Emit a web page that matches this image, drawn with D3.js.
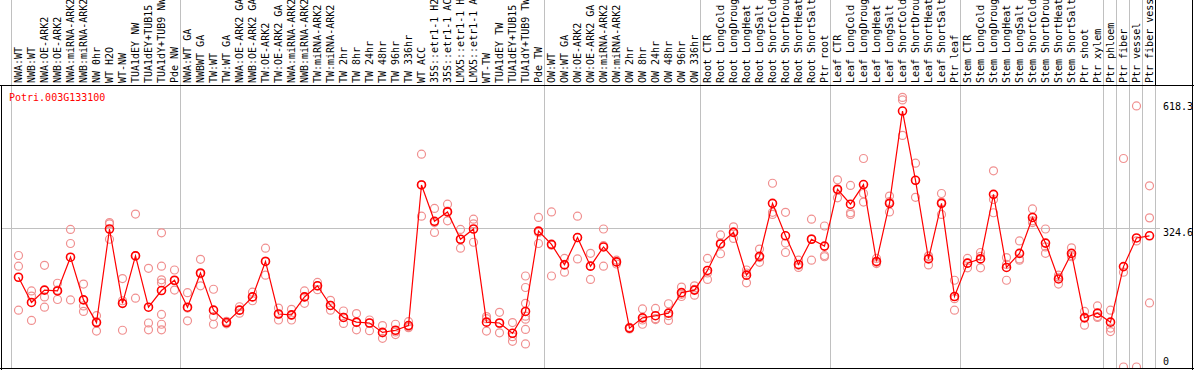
<!DOCTYPE html>
<html>
<head>
<meta charset="utf-8">
<script src="https://cdn.jsdelivr.net/npm/d3@7"></script>
<style>
html,body{margin:0;padding:0;background:#fff;}
svg{display:block;}
text{font-family:"DejaVu Sans Mono",monospace;font-size:10px;}
</style>
</head>
<body>
<svg id="chart" width="1194" height="370"></svg>
<script>
const geneId = "Potri.003G133100";

const categories = [
  "NWA:WT","NWB:WT","NWA:OE-ARK2","NWB:OE-ARK2","NWA:miRNA-ARK2","NWB:miRNA-ARK2","NW 0hr","WT H2O","WT-NW","TUA1dEY NW","TUA1dEY+TUB15 NW","TUA1dY+TUB9 NW","Pde NW",
  "NWA:WT GA","NWBWT GA","TW:WT","TW:WT GA","NWA:OE-ARK2 GA","NWB:OE-ARK2 GA","TW:OE-ARK2","TW:OE-ARK2 GA","NWA:miRNA-ARK2","NWB:miRNA-ARK2","TW:miRNA-ARK2","TW:miRNA-ARK2",
  "TW 2hr","TW 8hr","TW 24hr","TW 48hr","TW 96hr","TW 336hr","WT ACC","35S::etr1-1 H2O","35S::etr1-1 ACC","LMX5::etr1-1 H2O","LMX5::etr1-1 ACC","WT-TW","TUA1dEY TW","TUA1dEY+TUB15 TW","TUA1dY+TUB9 TW","Pde TW",
  "OW:WT","OW:WT GA","OW:OE-ARK2","OW:OE-ARK2 GA","OW:miRNA-ARK2","OW:miRNA-ARK2","OW 2hr","OW 8hr","OW 24hr","OW 48hr","OW 96hr","OW 336hr",
  "Root CTR","Root LongCold","Root LongDrought","Root LongHeat","Root LongSalt","Root ShortCold","Root ShortDrought","Root ShortHeat","Root ShortSalt","Ptr root",
  "Leaf CTR","Leaf LongCold","Leaf LongDrought","Leaf LongHeat","Leaf LongSalt","Leaf ShortCold","Leaf ShortDrought","Leaf ShortHeat","Leaf ShortSalt","Ptr leaf",
  "Stem CTR","Stem LongCold","Stem LongDrought","Stem LongHeat","Stem LongSalt","Stem ShortCold","Stem ShortDrought","Stem ShortHeat","Stem ShortSalt","Ptr shoot","Ptr xylem",
  "Ptr phloem","Ptr fiber","Ptr vessel","Ptr fiber vessel"
];

const meanValues = [
  210,151,180,178,257,157,104,323,149,260,140,179,203,
  140,220,133,104,133,164,247,124,122,164,190,144,
  116,105,103,81,86,97,426,341,363,299,323,105,103,79,130,318,
  287,239,303,236,281,246,91,115,120,126,174,180,
  226,288,315,215,259,383,307,240,299,283,
  416,381,427,247,383,599,437,253,383,165,
  243,253,404,233,266,350,290,206,266,115,126,
  105,235,302,307
];

const replicateValues = [
  [261,236,133],[178,166,109],[238,164,140],[196,180,158],[322,289,157],[194,143,130],[120,106,84],[338,335,299],[207,155,86],[358,261,161],[231,103,87],[314,236,204,197,123,100,87],[227,202,180],
  [174,138,108],[252,218,190],[182,118,100],[107,104,101],[141,133,126],[175,164,155],[278,248,215],[138,124,110],[135,121,110],[178,164,149],[198,190,181],[156,144,133],
  [131,116,102],[125,104,87],[110,103,85],[97,80,67],[100,82,76],[106,94,92],[498,427,353],[371,338,315],[381,365,342],[322,299,278],[346,335,292],[118,113,84],[128,102,80],[104,71,60],[213,186,149,119,112,88,54],[350,315,289],
  [363,285,213],[254,240,222],[353,303,253],[266,236,205],[323,284,236],[250,246,241],[93,91,89],[136,110,100],[137,113,111],[148,120,109],[187,170,165],[190,182,168],
  [254,220,205],[309,290,265],[328,316,301],[227,220,197],[276,256,245],[430,362,357],[362,290,268],[250,238,233],[346,300,250],[330,261,258],
  [438,414,396],[425,361,357],[488,406,386],[254,245,242],[400,387,363],[631,625,542],[477,437,397],[260,259,239],[406,386,357],[203,160,133],
  [254,243,232],[268,259,232],[459,392,361],[256,240,203],[295,250,253],[370,342,338],[323,281,266],[215,210,194],[279,261,258],[130,117,98],[143,118,116],
  [133,91,83],[488,222,0],[611,295,0],[424,349,150]
];

const groupBreaks = [0,13,41,53,63,73,84,85,86,87,88];
const tickValues = [0, 324.6, 618.3];
const tickLabels = ["0", "324.6", "618.3"];
const gridValues = [324.6];

const svg = d3.select("#chart");
const W = 1194, H = 370;
const headerBottom = 85, plotBottom = 368.5;

const x = d3.scaleBand().domain(d3.range(categories.length)).range([12, 1156]).padding(0);
const y = d3.scaleLinear().domain([0, 324.6]).range([367, 228.3]);
const cx = i => x(i) + x.bandwidth() / 2;

// vertical group separators (grey)
svg.append("g").selectAll("line").data(groupBreaks).join("line")
  .attr("x1", d => (d < categories.length ? x(d) : x(categories.length - 1) + x.bandwidth()) - 0.5)
  .attr("x2", d => (d < categories.length ? x(d) : x(categories.length - 1) + x.bandwidth()) - 0.5)
  .attr("y1", 0).attr("y2", plotBottom)
  .attr("stroke", "#c0c0c0").attr("stroke-width", 1);

// horizontal gridline
svg.append("g").selectAll("line").data(gridValues).join("line")
  .attr("x1", 1).attr("x2", 1160)
  .attr("y1", d => Math.round(y(d)) + 0.5).attr("y2", d => Math.round(y(d)) + 0.5)
  .attr("stroke", "#c0c0c0").attr("stroke-width", 1);

// column labels
svg.append("g").selectAll("text").data(categories).join("text")
  .attr("transform", (d, i) => `translate(${cx(i) + 3.5},83) rotate(-90)`)
  .attr("text-anchor", "start")
  .attr("fill", "#000")
  .text(d => d);

// frame lines
const frame = svg.append("g").attr("stroke", "#000").attr("stroke-width", 1);
frame.append("line").attr("x1", 0).attr("x2", W).attr("y1", headerBottom + 0.5).attr("y2", headerBottom + 0.5);
frame.append("line").attr("x1", 1.5).attr("x2", 1.5).attr("y1", headerBottom).attr("y2", H);
frame.append("line").attr("x1", 0).attr("x2", W).attr("y1", plotBottom).attr("y2", plotBottom);
frame.append("line").attr("x1", W - 1.5).attr("x2", W - 1.5).attr("y1", 0).attr("y2", H);
frame.append("line").attr("x1", 1155.5).attr("x2", 1155.5).attr("y1", 0).attr("y2", headerBottom);

// clip for data
svg.append("clipPath").attr("id", "plotclip").append("rect")
  .attr("x", 2).attr("y", headerBottom + 1).attr("width", 1190).attr("height", plotBottom - headerBottom - 1.5);

const plot = svg.append("g").attr("clip-path", "url(#plotclip)");

// replicate points
const repPts = [];
replicateValues.forEach((arr, i) => arr.forEach(v => repPts.push({i, v})));
plot.append("g").selectAll("circle").data(repPts).join("circle")
  .attr("cx", d => cx(d.i)).attr("cy", d => y(d.v)).attr("r", 4)
  .attr("fill", "none").attr("stroke", "#f09090").attr("stroke-width", 1.2);

// mean line
plot.append("path").datum(meanValues)
  .attr("d", d3.line().x((d, i) => cx(i)).y(d => y(d)))
  .attr("fill", "none").attr("stroke", "#ff0000").attr("stroke-width", 1.2);

// mean points
plot.append("g").selectAll("circle").data(meanValues).join("circle")
  .attr("cx", (d, i) => cx(i)).attr("cy", d => y(d)).attr("r", 4)
  .attr("fill", "none").attr("stroke", "#ff0000").attr("stroke-width", 1.6);

// gene label
svg.append("text").attr("x", 9).attr("y", 100.5).attr("fill", "#ff0000").text(geneId);

// right axis labels
svg.append("g").selectAll("text").data(tickValues).join("text")
  .attr("x", 1163)
  .attr("y", d => Math.min(y(d) + 7.5, 365))
  .attr("fill", "#000")
  .text((d, i) => tickLabels[i]);
</script>
</body>
</html>
